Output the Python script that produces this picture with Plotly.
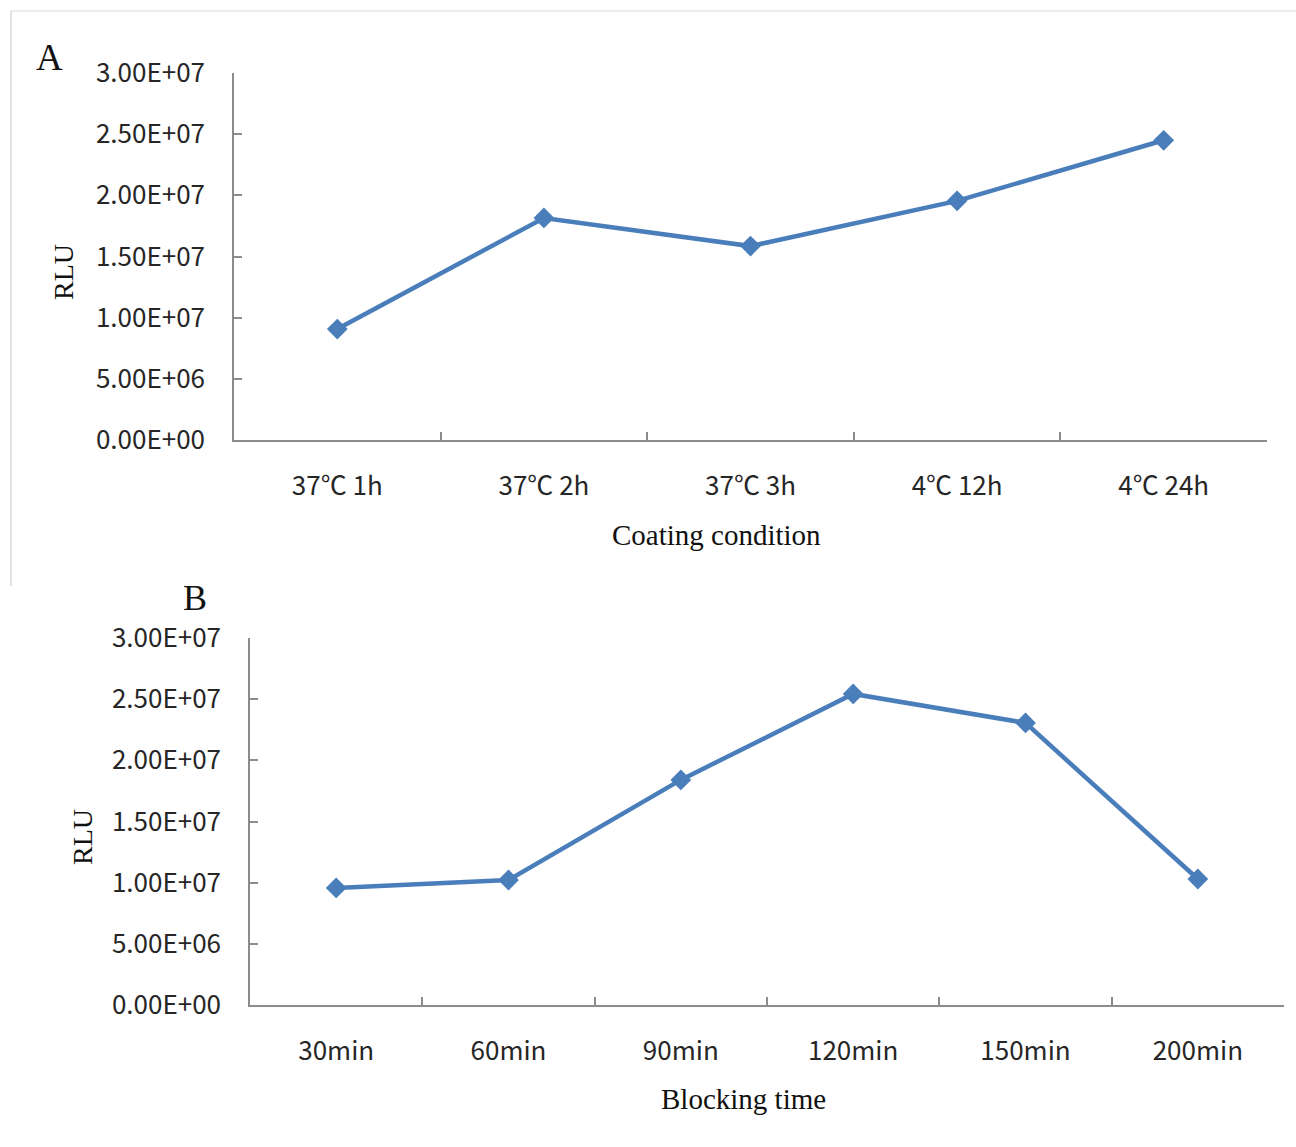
import plotly.graph_objects as go

# Data
cats_a = ["37\u2103 1h", "37\u2103 2h", "37\u2103 3h", "4\u2103 12h", "4\u2103 24h"]
rlu_a = [9.07e6, 18.15e6, 15.85e6, 19.55e6, 24.5e6]

cats_b = ["30min", "60min", "90min", "120min", "150min", "200min"]
rlu_b = [9.57e6, 10.22e6, 18.4e6, 25.43e6, 23.06e6, 10.3e6]

y_ticks = [0, 5e6, 1e7, 1.5e7, 2e7, 2.5e7, 3e7]
y_ticktext = ["0.00E+00", "5.00E+06", "1.00E+07", "1.50E+07", "2.00E+07", "2.50E+07", "3.00E+07"]

W, H = 1296, 1147
LINE = "#4A7EBB"
AXIS = "#8C8C8C"
TICKFONT = dict(family="Noto Sans CJK SC", size=26, color="#262626")
SERIF = "Liberation Serif"

fig = go.Figure()
fig.add_trace(go.Scatter(x=cats_a, y=rlu_a, mode="lines+markers", xaxis="x", yaxis="y",
                         line=dict(color=LINE, width=4.5),
                         marker=dict(symbol="diamond", size=16, color=LINE),
                         showlegend=False))
fig.add_trace(go.Scatter(x=cats_b, y=rlu_b, mode="lines+markers", xaxis="x2", yaxis="y2",
                         line=dict(color=LINE, width=4.5),
                         marker=dict(symbol="diamond", size=16, color=LINE),
                         showlegend=False))

def px(x):
    return x / W

def py(y):
    return 1 - y / H

xcommon = dict(type="category", showline=True, linecolor=AXIS, linewidth=1.5,
               ticks="inside", ticklen=8, tickcolor=AXIS, tickwidth=1.5,
               tickson="boundaries", showgrid=False, zeroline=False, automargin=False,
               tickfont=TICKFONT, ticklabelstandoff=22)
ycommon = dict(range=[0, 3e7], showline=True, linecolor=AXIS, linewidth=1.5,
               ticks="inside", ticklen=8, tickcolor=AXIS, tickwidth=1.5, automargin=False,
               tickvals=y_ticks, ticktext=y_ticktext, showgrid=False, zeroline=False,
               tickfont=TICKFONT, ticklabelstandoff=22)

fig.update_layout(
    width=W, height=H, autosize=False,
    margin=dict(l=0, r=0, t=0, b=0, pad=0),
    paper_bgcolor="white", plot_bgcolor="white",
    xaxis=dict(domain=[px(234), px(1267)], anchor="y", range=[-0.5, 4.5], **xcommon),
    yaxis=dict(domain=[py(440), py(73)], anchor="x", **ycommon),
    xaxis2=dict(domain=[px(250), px(1284)], anchor="y2", range=[-0.5, 5.5], **xcommon),
    yaxis2=dict(domain=[py(1005), py(638)], anchor="x2", **ycommon),
)

ann = [
    dict(text="A", x=px(49), y=py(57), font=dict(family=SERIF, size=37, color="#111")),
    dict(text="B", x=px(195), y=py(598), font=dict(family=SERIF, size=36, color="#111")),
    dict(text="RLU", x=px(63), y=py(272), textangle=-90, font=dict(family=SERIF, size=28, color="#111")),
    dict(text="RLU", x=px(82), y=py(837), textangle=-90, font=dict(family=SERIF, size=28, color="#111")),
    dict(text="Coating condition", x=px(716), y=py(535), font=dict(family=SERIF, size=29, color="#111")),
    dict(text="Blocking time", x=px(743), y=py(1099), font=dict(family=SERIF, size=29, color="#111")),
]
for a in ann:
    a.update(xref="paper", yref="paper", showarrow=False, xanchor="center", yanchor="middle")
fig.update_layout(annotations=ann)

# Light frame around panel A
fig.add_shape(type="line", xref="paper", yref="paper", x0=px(11), x1=px(11), y0=py(11), y1=py(586),
              line=dict(color="#D9D9D9", width=1.5))
fig.add_shape(type="line", xref="paper", yref="paper", x0=px(11), x1=1, y0=py(11), y1=py(11),
              line=dict(color="#E6E6E6", width=1.5))

fig.write_html("out.html", config={"displayModeBar": False},
               post_script="document.body.style.margin='0px';document.body.style.overflow='hidden';")
